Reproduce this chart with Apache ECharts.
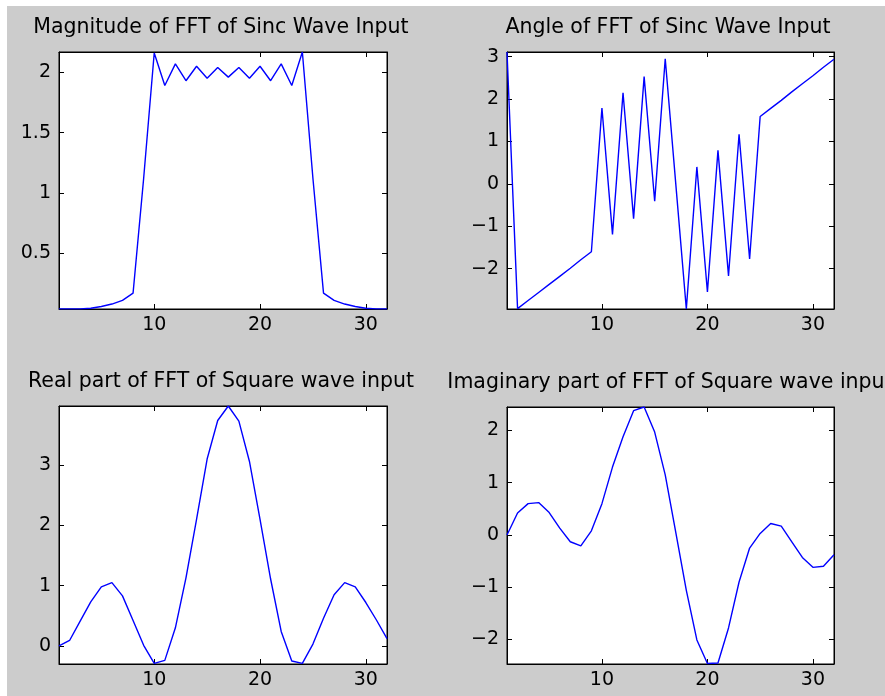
<!DOCTYPE html>
<html>
<head>
<meta charset="utf-8">
<script src="https://cdn.jsdelivr.net/npm/echarts@6/dist/echarts.min.js"></script>
<style>
  html, body { margin: 0; padding: 0; background: #ffffff; }
  #bg { position: absolute; left: 7px; top: 6px; width: 878px; height: 690px; background: #cccccc; }
  #chart { position: absolute; left: 0; top: 0; width: 885px; height: 696px; }
</style>
</head>
<body>
<div id="bg"></div>
<div id="chart"></div>
<script>
// ---- data ----
const xIndex = [1,2,3,4,5,6,7,8,9,10,11,12,13,14,15,16,17,18,19,20,21,22,23,24,25,26,27,28,29,30,31,32];
const magnitude = [0.04,0.04,0.04,0.045,0.06,0.08,0.11,0.17,1.12,2.16,1.89,2.07,1.93,2.05,1.95,2.04,1.96,2.04,1.95,2.05,1.93,2.07,1.89,2.168,1.12,0.17,0.11,0.08,0.06,0.045,0.04,0.04];
const angle = [3.11,-2.94,-2.75,-2.56,-2.37,-2.18,-1.99,-1.79,-1.6,1.79,-1.19,2.15,-0.82,2.53,-0.41,2.95,0.0,-2.95,0.4,-2.55,0.79,-2.17,1.17,-1.77,1.59,1.78,1.97,2.17,2.36,2.55,2.75,2.94];
const realPart = [0.0,0.09,0.41,0.73,0.98,1.05,0.83,0.42,0.01,-0.29,-0.24,0.3,1.13,2.1,3.1,3.74,3.98,3.73,3.06,2.1,1.11,0.24,-0.25,-0.29,0.03,0.46,0.85,1.05,0.98,0.72,0.43,0.12];
const imagPart = [0.0,0.42,0.6,0.62,0.43,0.13,-0.13,-0.21,0.08,0.6,1.3,1.88,2.38,2.45,1.97,1.15,0.05,-1.06,-2.01,-2.46,-2.45,-1.78,-0.9,-0.25,0.03,0.22,0.17,-0.13,-0.43,-0.62,-0.6,-0.38];

const titles = [
  'Magnitude of FFT of Sinc Wave Input',
  'Angle of FFT of Sinc Wave Input',
  'Real part of FFT of Square wave input',
  'Imaginary part of FFT of Square wave input'
];
const xTicks = [10, 20, 30];
const yTicks1 = [0.5, 1, 1.5, 2];
const yTicks2 = [-2, -1, 0, 1, 2, 3];
const yTicks3 = [0, 1, 2, 3];
const yTicks4 = [-2, -1, 0, 1, 2];
const yRanges = [[0.039, 2.168], [-2.95, 3.11], [-0.3, 3.98], [-2.47, 2.45]];
const xRange = [1, 32];

// ---- layout ----
const grids = [
  { left: 59, top: 52, width: 328, height: 257 },
  { left: 507, top: 52, width: 327, height: 257 },
  { left: 59, top: 406, width: 328, height: 258 },
  { left: 507, top: 407, width: 327, height: 257 }
];
const titlePos = [[221, 28], [668, 28], [221, 382], [670, 383]];
const seriesData = [magnitude, angle, realPart, imagPart];
const yTickSets = [yTicks1, yTicks2, yTicks3, yTicks4];

const FONT = '"DejaVu Sans", sans-serif';
const fmt = v => String(v).replace('-', '\u2212');

const xAxes = [], yAxes = [], series = [], graphic = [];
grids.forEach((g, i) => {
  const tickBase = { show: true, inside: true, length: 5, lineStyle: { color: '#000', width: 1 } };
  xAxes.push({
    gridIndex: i, type: 'value', min: xRange[0], max: xRange[1], position: 'bottom',
    axisLine: { show: true, onZero: false, lineStyle: { color: '#000', width: 1 } },
    axisTick: Object.assign({ customValues: xTicks }, tickBase),
    axisLabel: { customValues: xTicks, color: '#000', fontFamily: FONT, fontSize: 19, margin: 7, formatter: fmt },
    splitLine: { show: false }
  });
  xAxes.push({
    gridIndex: i, type: 'value', min: xRange[0], max: xRange[1], position: 'top',
    axisLine: { show: true, onZero: false, lineStyle: { color: '#000', width: 1 } },
    axisTick: Object.assign({ customValues: xTicks }, tickBase),
    axisLabel: { show: false },
    splitLine: { show: false }
  });
  yAxes.push({
    gridIndex: i, type: 'value', min: yRanges[i][0], max: yRanges[i][1], position: 'left',
    axisLine: { show: true, onZero: false, lineStyle: { color: '#000', width: 1 } },
    axisTick: Object.assign({ customValues: yTickSets[i] }, tickBase),
    axisLabel: { customValues: yTickSets[i], color: '#000', fontFamily: FONT, fontSize: 19, margin: 8, formatter: fmt },
    splitLine: { show: false }
  });
  yAxes.push({
    gridIndex: i, type: 'value', min: yRanges[i][0], max: yRanges[i][1], position: 'right',
    axisLine: { show: true, onZero: false, lineStyle: { color: '#000', width: 1 } },
    axisTick: Object.assign({ customValues: yTickSets[i] }, tickBase),
    axisLabel: { show: false },
    splitLine: { show: false }
  });
  series.push({
    type: 'line',
    xAxisIndex: i * 2, yAxisIndex: i * 2,
    data: xIndex.map((x, k) => [x, seriesData[i][k]]),
    symbol: 'none',
    lineStyle: { color: '#0000ff', width: 1.4 },
    animation: false,
    clip: true
  });
  graphic.push({
    type: 'text', x: titlePos[i][0], y: titlePos[i][1],
    style: { text: titles[i], font: '20.5px ' + FONT, fill: '#000', align: 'center', verticalAlign: 'middle' }
  });
});

const chart = echarts.init(document.getElementById('chart'), null, { renderer: 'canvas' });
chart.setOption({
  backgroundColor: 'transparent',
  animation: false,
  grid: grids.map(g => Object.assign({ show: true, backgroundColor: '#ffffff', borderColor: '#000', borderWidth: 1, containLabel: false }, g)),
  xAxis: xAxes,
  yAxis: yAxes,
  series: series,
  graphic: graphic
});
</script>
</body>
</html>
